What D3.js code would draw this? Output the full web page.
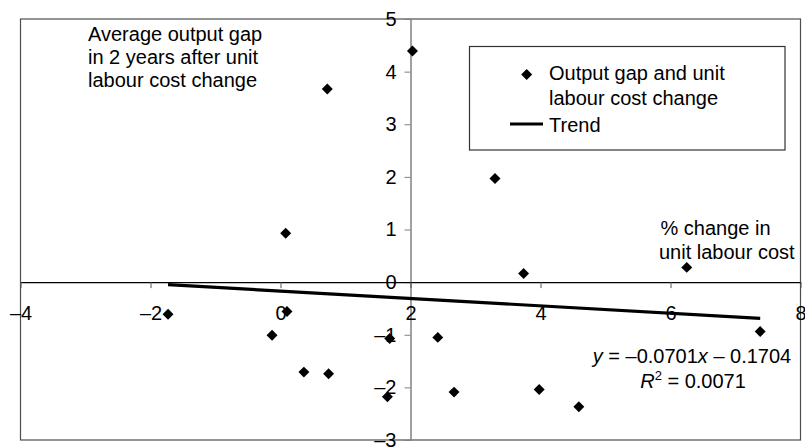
<!DOCTYPE html>
<html>
<head>
<meta charset="utf-8">
<script src="https://cdn.jsdelivr.net/npm/d3@7"></script>
<style>
body { margin: 0; background: #fff; }
svg text { font-family: "Liberation Sans", Arial, sans-serif; fill: #000; }
</style>
</head>
<body>
<div id="chart"></div>
<script>
// % change in unit labour cost
const ulcChange = [-1.73, 0.10, -0.13, 0.08, 0.72, 2.03, 0.36, 0.74, 1.645, 1.68, 2.42, 2.67, 3.74, 3.30, 3.98, 4.59, 6.25, 7.38];
// average output gap in 2 years after
const outputGap = [-0.61, -0.56, -1.01, 0.93, 3.67, 4.39, -1.71, -1.74, -2.18, -1.07, -1.05, -2.09, 0.165, 1.97, -2.04, -2.37, 0.28, -0.94];

const xTicks = [-4, -2, 0, 2, 4, 6, 8];
const yTicks = [-3, -2, -1, 0, 1, 2, 3, 4, 5];

const trendSlope = -0.0701;
const trendIntercept = -0.1704;

const yTitle = ["Average output gap", "in 2 years after unit", "labour cost change"];
const xTitle = ["% change in", "unit labour cost"];
const seriesName = ["Output gap and unit", "labour cost change"];
const trendName = "Trend";

const width = 805, height = 447;
const plot = { left: 20.5, right: 800.5, top: 19, bottom: 440 };

const svg = d3.select('#chart').append('svg')
    .attr('width', width)
    .attr('height', height);

const x = d3.scaleLinear().domain([-4, 8]).range([plot.left, plot.right]);
const y = d3.scaleLinear().domain([-3, 5]).range([plot.bottom, plot.top]);

const fmt = d => d < 0 ? '\u2013' + Math.abs(d) : String(d);

// plot frame
svg.append('rect')
    .attr('x', plot.left)
    .attr('y', plot.top)
    .attr('width', plot.right - plot.left)
    .attr('height', plot.bottom - plot.top)
    .attr('fill', 'none')
    .attr('stroke', '#4d4d4d')
    .attr('stroke-width', 1.2);

// y axis crosses at x = 2
const yAxis = svg.append('g')
    .attr('transform', `translate(${x(2)},0)`)
    .call(d3.axisLeft(y).tickValues(yTicks).tickFormat(fmt).tickSize(6).tickSizeOuter(0).tickPadding(8));
yAxis.select('.domain').attr('stroke', '#808080').attr('stroke-width', 1.5);
yAxis.selectAll('.tick line').attr('stroke', '#808080');
yAxis.selectAll('.tick text').attr('font-size', 20).attr('font-family', null);

// x axis crosses at y = 0
const xAxis = svg.append('g')
    .attr('transform', `translate(0,${y(0)})`)
    .call(d3.axisBottom(x).tickValues(xTicks).tickFormat(fmt).tickSize(6).tickSizeOuter(0).tickPadding(18));
xAxis.select('.domain').attr('stroke', '#000').attr('stroke-width', 1.3);
xAxis.selectAll('.tick line').attr('stroke', '#555');
xAxis.selectAll('.tick text').attr('font-size', 20).attr('font-family', null);

// trend line over the data range
const xMin = d3.min(ulcChange), xMax = d3.max(ulcChange);
svg.append('line')
    .attr('x1', x(xMin))
    .attr('y1', y(trendSlope * xMin + trendIntercept))
    .attr('x2', x(xMax))
    .attr('y2', y(trendSlope * xMax + trendIntercept))
    .attr('stroke', '#000')
    .attr('stroke-width', 3.2);

// points
const diamond = d3.symbol().type(d3.symbolSquare).size(60);
svg.selectAll('path.pt')
    .data(ulcChange.map((v, i) => [v, outputGap[i]]))
  .enter().append('path')
    .attr('class', 'pt')
    .attr('d', diamond)
    .attr('transform', d => `translate(${x(d[0])},${y(d[1])}) rotate(45)`)
    .attr('fill', '#000');

// annotations
const yt = svg.append('text').attr('x', 88).attr('y', 40.5).attr('font-size', 20);
yt.selectAll('tspan').data(yTitle).enter().append('tspan')
    .attr('x', 88).attr('dy', (d, i) => i ? 23.3 : 0).text(d => d);

const xt = svg.append('text').attr('x', 660).attr('y', 235).attr('font-size', 20);
xt.selectAll('tspan').data(xTitle).enter().append('tspan')
    .attr('x', (d, i) => i ? 659 : 660.5).attr('dy', (d, i) => i ? 24 : 0).text(d => d);

// regression equation
const eq = svg.append('text').attr('x', 692).attr('y', 362.5).attr('font-size', 20).attr('text-anchor', 'middle');
eq.append('tspan').attr('font-style', 'italic').text('y');
eq.append('tspan').text(' = \u20130.0701');
eq.append('tspan').attr('font-style', 'italic').text('x');
eq.append('tspan').text(' \u2013 0.1704');
const r2 = svg.append('text').attr('x', 693).attr('y', 388).attr('font-size', 20).attr('text-anchor', 'middle');
r2.append('tspan').attr('font-style', 'italic').text('R');
r2.append('tspan').attr('font-size', 13).attr('dy', -8).text('2');
r2.append('tspan').attr('dy', 8).text(' = 0.0071');

// legend
const legend = svg.append('g');
legend.append('rect')
    .attr('x', 469.5).attr('y', 46.5)
    .attr('width', 315.5).attr('height', 103.5)
    .attr('fill', '#fff')
    .attr('stroke', '#333')
    .attr('stroke-width', 1.2);
legend.append('path')
    .attr('d', diamond)
    .attr('transform', 'translate(526.7,74.5) rotate(45)')
    .attr('fill', '#000');
const lt = legend.append('text').attr('x', 549).attr('y', 80).attr('font-size', 20);
lt.selectAll('tspan').data(seriesName).enter().append('tspan')
    .attr('x', 549).attr('dy', (d, i) => i ? 24.5 : 0).text(d => d);
legend.append('line')
    .attr('x1', 510).attr('x2', 543)
    .attr('y1', 124).attr('y2', 124)
    .attr('stroke', '#000').attr('stroke-width', 3.2);
legend.append('text').attr('x', 549).attr('y', 131.5).attr('font-size', 20).text(trendName);
</script>
</body>
</html>
